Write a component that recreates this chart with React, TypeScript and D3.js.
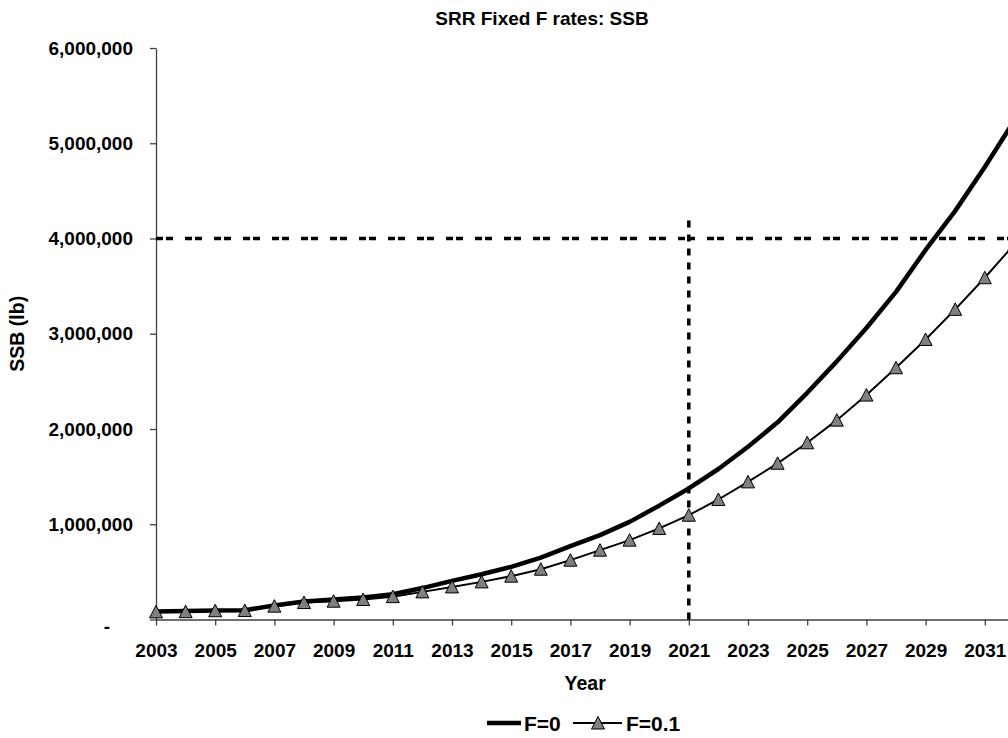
import React, { useEffect, useRef } from 'react';
import * as d3 from 'd3';

const years = [
  2003, 2004, 2005, 2006, 2007, 2008, 2009, 2010, 2011, 2012,
  2013, 2014, 2015, 2016, 2017, 2018, 2019, 2020, 2021, 2022,
  2023, 2024, 2025, 2026, 2027, 2028, 2029, 2030, 2031, 2032,
];

const ssbF0 = [
  85000, 88000, 95000, 98000, 148000, 190000, 210000, 232000, 265000, 330000,
  405000, 475000, 553000, 650000, 770000, 886000, 1025000, 1195000, 1376000, 1580000,
  1813000, 2070000, 2380000, 2710000, 3060000, 3440000, 3880000, 4290000, 4750000, 5240000,
];

const ssbF01 = [
  80000, 82000, 92000, 94000, 140000, 178000, 192000, 210000, 240000, 290000,
  342000, 395000, 455000, 528000, 623000, 728000, 833000, 956000, 1095000, 1260000,
  1445000, 1640000, 1855000, 2093000, 2356000, 2643000, 2940000, 3256000, 3588000, 3940000,
];

const yTicks = [0, 1000000, 2000000, 3000000, 4000000, 5000000, 6000000];
const xTicks = [2003, 2005, 2007, 2009, 2011, 2013, 2015, 2017, 2019, 2021, 2023, 2025, 2027, 2029, 2031];

const targetSSB = 4000000;
const targetYear = 2021;
const targetLineTop = 4250000;

const W = 1008;
const H = 738;
const FONT = '"Liberation Sans", Arial, Helvetica, sans-serif';
const TRI = 'M0,-6.5L6.5,6L-6.5,6Z';

const App: React.FC = () => {
  const svgRef = useRef<SVGSVGElement>(null);

  useEffect(() => {
    if (!svgRef.current) return;
    const svg = d3.select(svgRef.current);
    svg.selectAll('*').remove();

    const left = 156;
    const step = 29.6;
    const x = d3
      .scaleLinear()
      .domain([2003, 2032])
      .range([left, left + step * 29]);
    const y = d3.scaleLinear().domain([0, 6000000]).range([619.5, 48]);

    const g = svg.append('g').style('font-family', FONT).style('font-weight', 'bold');

    // title
    g.append('text')
      .attr('x', 542)
      .attr('y', 25)
      .attr('text-anchor', 'middle')
      .style('font-size', '19px')
      .text('SRR Fixed F rates: SSB');

    // y axis
    const yAxis = d3
      .axisLeft(y)
      .tickValues(yTicks)
      .tickSize(6)
      .tickSizeOuter(0)
      .tickPadding(17)
      .tickFormat(d => (+d === 0 ? '-' : d3.format(',')(+d)));
    const ya = g.append('g').attr('transform', `translate(${left},0)`).call(yAxis);
    ya.select('.domain').attr('stroke', '#404040').attr('stroke-width', 1.3);
    ya.selectAll('.tick line').attr('stroke', '#404040').attr('stroke-width', 1.3);
    ya.selectAll('.tick text')
      .style('font-size', '19px')
      .style('font-family', FONT)
      .attr('fill', '#000')
      .filter(d => +(d as number) === 0)
      .attr('dx', -23)
      .attr('dy', '0.7em');

    // x axis
    const xAxis = d3
      .axisBottom(x)
      .tickValues(xTicks)
      .tickSize(6)
      .tickSizeOuter(0)
      .tickFormat(d3.format('d'));
    const xa = g.append('g').attr('transform', `translate(0,${y(0)})`).call(xAxis);
    xa.select('.domain').attr('stroke', '#404040').attr('stroke-width', 1.3);
    xa.selectAll('.tick line').attr('stroke', '#404040').attr('stroke-width', 1.3);
    xa.selectAll('.tick text')
      .attr('dy', null)
      .attr('y', 37)
      .style('font-size', '19px')
      .style('font-family', FONT)
      .attr('fill', '#000');

    // axis titles
    g.append('text')
      .attr('transform', 'rotate(-90)')
      .attr('x', -(y(0) + y(6000000)) / 2)
      .attr('y', 24)
      .attr('text-anchor', 'middle')
      .style('font-size', '19.5px')
      .text('SSB (lb)');

    g.append('text')
      .attr('x', (x(2003) + x(2032)) / 2)
      .attr('y', 690)
      .attr('text-anchor', 'middle')
      .style('font-size', '19.5px')
      .text('Year');

    // reference lines
    g.append('line')
      .attr('x1', left)
      .attr('x2', x(2032))
      .attr('y1', y(targetSSB))
      .attr('y2', y(targetSSB))
      .attr('stroke', '#000')
      .attr('stroke-width', 3.5)
      .attr('stroke-dasharray', '7,3,7,12');

    g.append('line')
      .attr('x1', x(targetYear))
      .attr('x2', x(targetYear))
      .attr('y1', y(0))
      .attr('y2', y(targetLineTop))
      .attr('stroke', '#000')
      .attr('stroke-width', 3.5)
      .attr('stroke-dasharray', '7,7');

    const line = d3
      .line<number>()
      .x((_, i) => x(years[i]))
      .y(d => y(d));

    // F=0.1 thin line with triangles
    g.append('path')
      .attr('d', line(ssbF01))
      .attr('fill', 'none')
      .attr('stroke', '#000')
      .attr('stroke-width', 2);

    // F=0 thick line
    g.append('path')
      .attr('d', line(ssbF0))
      .attr('fill', 'none')
      .attr('stroke', '#000')
      .attr('stroke-width', 4.5)
      .attr('stroke-linejoin', 'round');

    g.selectAll('.tri')
      .data(ssbF01)
      .enter()
      .append('path')
      .attr('class', 'tri')
      .attr('d', TRI)
      .attr('transform', (d, i) => `translate(${x(years[i])},${y(d)})`)
      .attr('fill', '#808080')
      .attr('stroke', '#000')
      .attr('stroke-width', 1);

    // legend
    const ly = 723;
    const lg = g.append('g').style('font-size', '21px');
    lg.append('line')
      .attr('x1', 487)
      .attr('x2', 521)
      .attr('y1', ly)
      .attr('y2', ly)
      .attr('stroke', '#000')
      .attr('stroke-width', 4.5);
    lg.append('text').attr('x', 524).attr('y', ly + 8).text('F=0');
    lg.append('line')
      .attr('x1', 573)
      .attr('x2', 622)
      .attr('y1', ly)
      .attr('y2', ly)
      .attr('stroke', '#000')
      .attr('stroke-width', 2);
    lg.append('path')
      .attr('d', TRI)
      .attr('transform', `translate(598,${ly})`)
      .attr('fill', '#808080')
      .attr('stroke', '#000')
      .attr('stroke-width', 1);
    lg.append('text').attr('x', 626).attr('y', ly + 8).text('F=0.1');
  }, []);

  return (
    <svg
      ref={svgRef}
      width={W}
      height={H}
      style={{ position: 'absolute', left: 0, top: 0, background: '#fff', display: 'block' }}
    />
  );
};

export default App;
